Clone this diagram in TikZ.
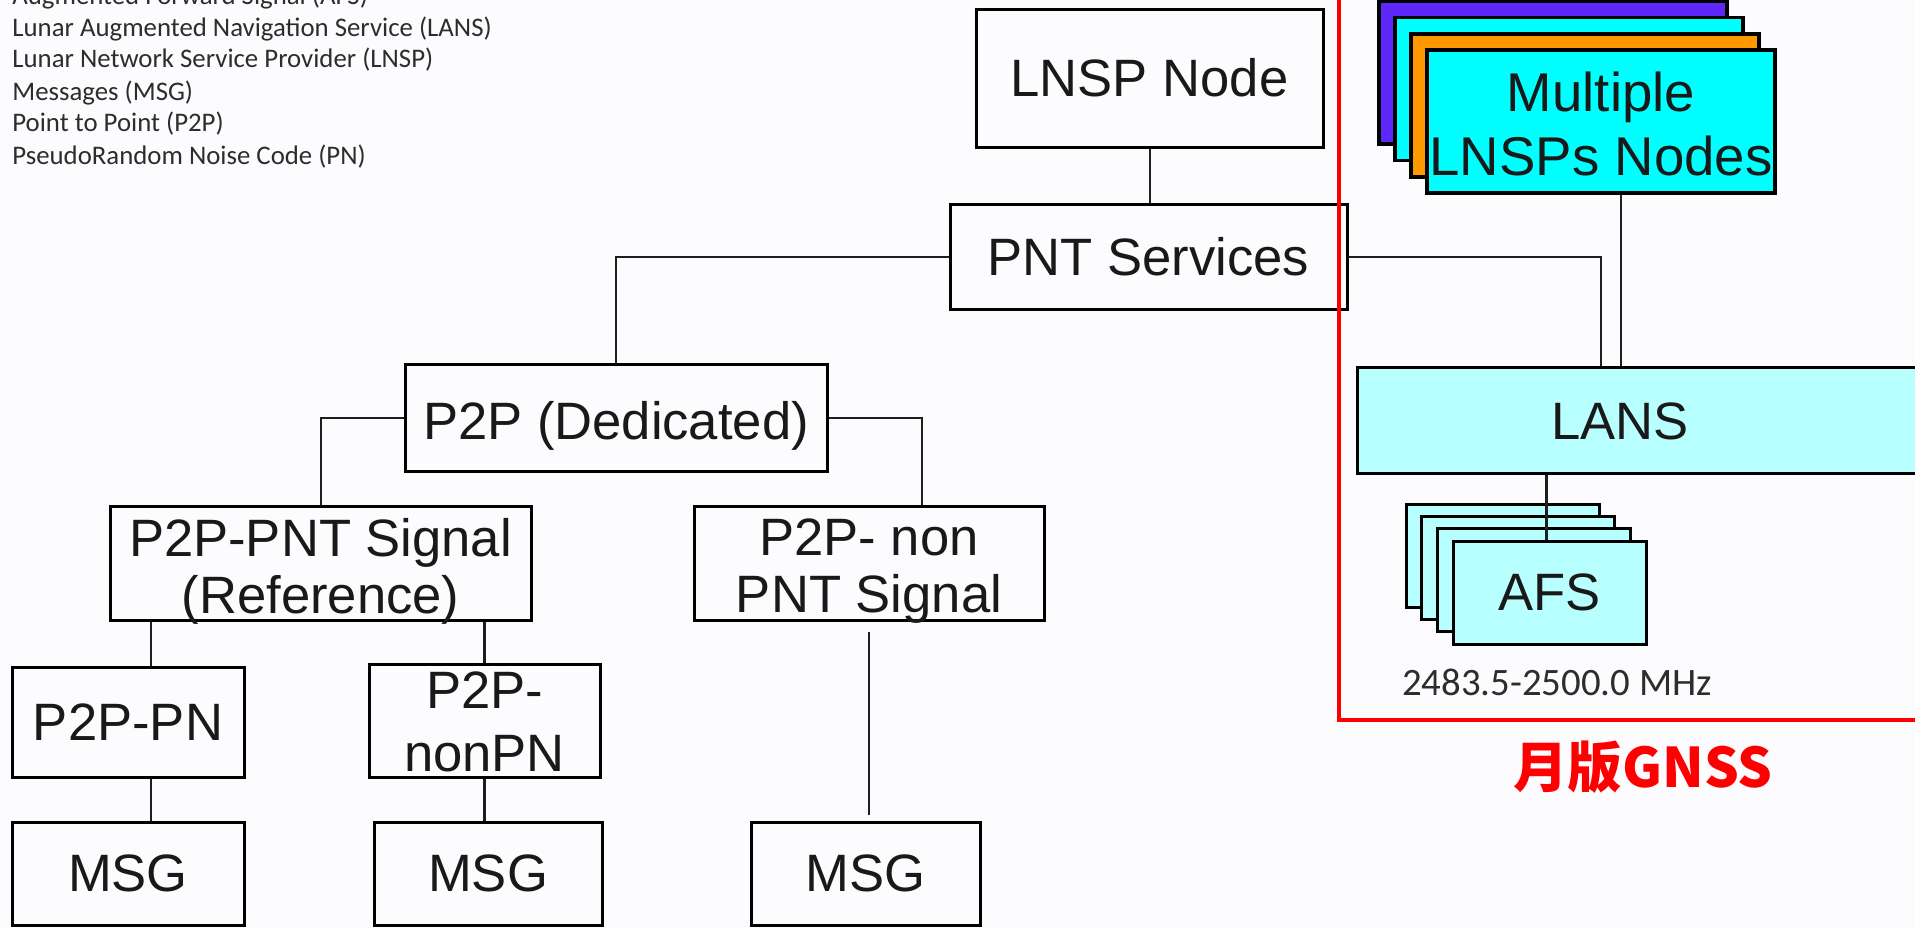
\documentclass[tikz,border=0pt]{standalone}
\usepackage{fontspec}
\setmainfont{Liberation Sans}
\newfontfamily\legendfont{Carlito}
\newfontfamily\cjkfont{Noto Sans CJK SC}
\usetikzlibrary{calc}
\newcommand{\lowr}[2]{\raisebox{-#1}[\height][\depth]{#2}}
\definecolor{bg}{RGB}{252,251,254}
\definecolor{lcyan}{RGB}{184,255,255}
\definecolor{cyanf}{RGB}{0,255,255}
\definecolor{orangef}{RGB}{255,153,0}
\definecolor{purplef}{RGB}{95,40,250}
\definecolor{txtgray}{RGB}{45,45,45}
\definecolor{linec}{RGB}{30,30,30}
\tikzset{
  box/.style={draw=black, line width=1.5pt, fill=bg, inner sep=0pt, align=center,
    font=\fontsize{26.3}{28.5}\selectfont, text=black!90},
  stackbox/.style={draw=black, line width=1.6pt, inner sep=0pt, minimum width=174pt, minimum height=71.5pt},
  afsbox/.style={draw=black, line width=1.5pt, fill=lcyan, inner sep=0pt, minimum width=96.5pt, minimum height=51.5pt},
  conn/.style={draw=linec, line width=1pt},
  legendline/.style={anchor=base west, inner sep=0pt, text=txtgray, font=\legendfont\fontsize{13.4}{14}\selectfont}
}
\begin{document}
\begin{tikzpicture}[x=0.5pt,y=-0.5pt]
\useasboundingbox (0,0) rectangle (1915,928);
\fill[bg] (0,0) rectangle (1915,928);
\clip (0,0) rectangle (1915,928);

% legend
\node[legendline] (l0) at (12,4) {Augmented Forward Signal (AFS)};
\node[legendline] (l1) at (12,36) {Lunar Augmented Navigation Service (LANS)};
\node[legendline] (l2) at (12,67) {Lunar Network Service Provider (LNSP)};
\node[legendline] (l3) at (12,100) {Messages (MSG)};
\node[legendline] (l4) at (12,131) {Point to Point (P2P)};
\node[legendline] (l5) at (12,164) {PseudoRandom Noise Code (PN)};

% left tree
\node[box, minimum width=173.5pt, minimum height=69pt] (lnsp) at (1149.5,78) {LNSP Node};
\node[box, minimum width=198.5pt, minimum height=52.5pt] (pnt) at (1148.5,256.5) {PNT Services};
\node[box, minimum width=211pt, minimum height=53.5pt] (p2p) at (616,417.5) {\lowr{4pt}{P2P (Dedicated)}};
\node[box, minimum width=210.5pt, minimum height=57pt] (pntsig) at (320.5,563) {\lowr{4pt}{P2P-PNT Signal}\\\lowr{4pt}{(Reference)}};
\node[box, minimum width=175pt, minimum height=57pt] (nonpnt) at (869,563) {\lowr{4pt}{P2P- non}\\\lowr{4pt}{PNT Signal}};
\node[box, minimum width=116pt, minimum height=55pt] (pn) at (128,722) {P2P-PN};
\node[box, minimum width=115.5pt, minimum height=56.5pt, font=\fontsize{26.3}{31.5}\selectfont] (nonpn) at (484.5,720.5) {\lowr{0.5pt}{P2P-}\\\lowr{0.5pt}{nonPN}};
\node[box, minimum width=116pt, minimum height=51.5pt] (msga) at (128,873.5) {MSG};
\node[box, minimum width=114pt, minimum height=51.5pt] (msgb) at (488,873.5) {MSG};
\node[box, minimum width=114.5pt, minimum height=51.5pt] (msgc) at (865.5,873.5) {MSG};

\coordinate (cpn) at ([xshift=11.5pt]pn.north);
\draw[conn] (lnsp.south) -- (lnsp.south |- pnt.north);
\draw[conn] (pnt.west) -| (p2p.north);
\draw[conn] (p2p.west) -| (pntsig.north);
\draw[conn] (p2p.east) -| ([xshift=26.5pt]nonpnt.north);
\draw[conn, line width=1.4pt] (cpn |- pntsig.south) -- (cpn);
\draw[conn, line width=1.4pt] (pntsig.south -| nonpn.north) -- (nonpn.north);
\draw[conn, line width=1.4pt] (cpn |- pn.south) -- (cpn |- msga.north);
\draw[conn, line width=1.4pt] (nonpn.south) -- (nonpn.south |- msgb.north);
\draw[conn, shorten <=5pt, shorten >=3pt] (nonpnt.south) -- (nonpnt.south |- msgc.north);

% right part
\node[stackbox, fill=purplef] (m3) at (1553,72.5) {};
\node[stackbox, fill=cyanf] (m2) at (1569,89) {};
\node[stackbox, fill=orangef] (m1) at (1585,105.5) {};
\node[stackbox, fill=cyanf, align=center, text=black!90,
  font=\fontsize{27.3}{32}\selectfont] (multi) at (1601,121.5) {\lowr{1.2pt}{Multiple}\\\lowr{1.2pt}{LNSPs Nodes}};

\node[draw=black, line width=1.5pt, fill=lcyan, inner sep=0pt, anchor=north west,
  minimum width=300pt, minimum height=53pt] (lans) at (1356,366) {};
\node[inner sep=0pt, font=\fontsize{26.3}{28}\selectfont, text=black!90] (lanstext) at (1620,421) {LANS};

\draw[conn] (pnt.east) -| (multi.south |- lans.north);
\draw[conn, line width=1.4pt] ([xshift=10pt]multi.south) -- ([xshift=10pt]multi.south |- lans.north);

\node[afsbox] (afs3) at (1502.5,555.5) {};
\node[afsbox] (afs2) at (1518,567.5) {};
\node[afsbox] (afs1) at (1533.5,579.5) {};
\node[afsbox, font=\fontsize{26.3}{28}\selectfont, text=black!90] (afs) at (1549.5,592.5) {AFS};
\draw[conn, line width=1.4pt] ([xshift=-1.5pt]afs.north |- lans.south) -- ([xshift=-1.5pt]afs.north);

\node[inner sep=0pt, text=txtgray, font=\legendfont\fontsize{19.4}{20}\selectfont] (freq) at (1557,682) {2483.5-2500.0 MHz};

\draw[red, line width=2pt] (1339,-20) rectangle (1940,720);
\node[inner sep=0pt, text=red, font=\cjkfont\bfseries\fontsize{27.3}{30}\selectfont] (gnss) at (1643,767) {月版GNSS};
\end{tikzpicture}
\end{document}
